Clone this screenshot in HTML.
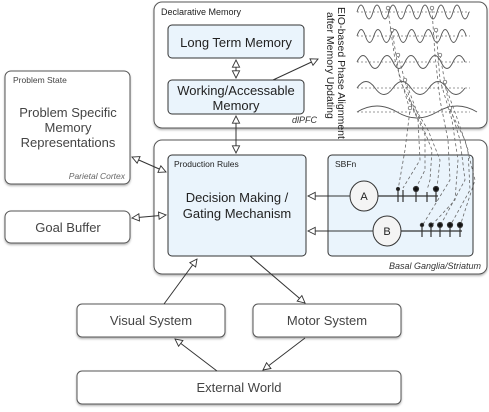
<!DOCTYPE html>
<html><head><style>
body{margin:0;background:#fff;}
svg{display:block;font-family:"Liberation Sans",Arial,sans-serif;}
</style></head><body>
<svg width="489" height="412" viewBox="0 0 489 412" xmlns="http://www.w3.org/2000/svg">
<defs>
<marker id="oa" viewBox="0 0 10 10" refX="9" refY="5" markerWidth="9" markerHeight="9" orient="auto-start-reverse" markerUnits="userSpaceOnUse">
<path d="M1,1 L9,5 L1,9 Z" fill="#fff" stroke="#333" stroke-width="1"/></marker>
<filter id="sh" x="-5%" y="-5%" width="110%" height="115%"><feDropShadow dx="0" dy="1.5" stdDeviation="1" flood-color="#000" flood-opacity="0.3"/></filter>
</defs>
<g stroke="#555" stroke-width="1" filter="url(#sh)">
<rect x="154" y="2" width="333" height="126" rx="8" fill="#fff"/>
<rect x="154" y="140" width="333" height="134" rx="8" fill="#fff"/>
<rect x="5" y="71" width="125" height="113" rx="6" fill="#fff"/>
<rect x="5" y="211" width="125" height="32" rx="6" fill="#fff"/>
<rect x="77" y="304" width="148" height="33" rx="5" fill="#fff"/>
<rect x="253" y="304" width="148" height="33" rx="5" fill="#fff"/>
<rect x="77" y="371" width="324" height="33" rx="5" fill="#fff"/>
</g>
<g stroke="#333" stroke-width="1" fill="#eaf4fc">
<rect x="168" y="25" width="136" height="33" rx="4"/>
<rect x="168" y="80" width="136" height="34" rx="4"/>
<rect x="168" y="155" width="138" height="101" rx="4"/>
<rect x="328" y="155" width="145" height="101" rx="4"/>
</g>
<!-- waves -->
<g fill="none" stroke="#555" stroke-width="0.9">
<path d="M357,12 q4,-14 8,0 t8,0 t8,0 t8,0 t8,0 t8,0 t8,0 t8,0 t8,0 t8,0 t8,0 t8,0 t8,0 t8,0"/>
<path d="M357,36 q4.2,-13 8.4,0 t8.4,0 t8.4,0 t8.4,0 t8.4,0 t8.4,0 t8.4,0 t8.4,0 t8.4,0 t8.4,0 t8.4,0 t8.4,0 t8.4,0"/>
<path d="M357,62 q6,-13 12,0 t12,0 t12,0 t12,0 t12,0 t12,0 t12,0 t12,0 t12,0"/>
<path d="M357,88 q9,-13 18,0 t18,0 t18,0 t18,0 t18,0 t18,0"/>
<path d="M357,112 q20,-12 40,0 t40,0 t40,0"/>
</g>
<g stroke="#777" stroke-width="0.7" stroke-dasharray="2,2">
<line x1="357" y1="12" x2="470" y2="12"/><line x1="357" y1="36" x2="470" y2="36"/><line x1="357" y1="62" x2="470" y2="62"/><line x1="357" y1="88" x2="470" y2="88"/><line x1="357" y1="112" x2="470" y2="112"/>
</g>
<g stroke="#666" stroke-width="0.8" stroke-dasharray="3,2.5" fill="none">
<path d="M388,10 L395,60 L410,110 L405,150 L398,190"/>
<path d="M392,30 L400,80 L418,120 L420,160 L403,188"/>
<path d="M398,55 L410,100 L425,135 L425,170 L416,188"/>
<path d="M405,80 L420,120 L432,150 L430,180 L427,190"/>
<path d="M410,100 L428,130 L440,160 L437,188"/>
<path d="M432,10 L435,55 L440,100 L448,140 L450,180 L422,226"/>
<path d="M436,30 L440,80 L452,120 L458,160 L455,200 L431,226"/>
<path d="M440,55 L448,100 L460,140 L465,180 L440,226"/>
<path d="M445,85 L456,115 L468,150 L470,190 L450,226"/>
<path d="M450,110 L465,140 L475,180 L460,226"/>
</g>
<g fill="#fff" stroke="#555" stroke-width="0.7">
<circle cx="388" cy="8" r="1.8"/><circle cx="432" cy="8" r="1.8"/><circle cx="405" cy="80" r="1.8"/><circle cx="445" cy="82" r="1.8"/><circle cx="398" cy="55" r="1.8"/><circle cx="440" cy="55" r="1.8"/><circle cx="392" cy="30" r="1.8"/><circle cx="436" cy="30" r="1.8"/><circle cx="410" cy="108" r="1.8"/><circle cx="450" cy="108" r="1.8"/>
</g>
<!-- SBFn -->
<g stroke="#333" stroke-width="1.2" fill="#111">
<line x1="378" y1="196" x2="438" y2="196"/>
<line x1="398" y1="190" x2="398" y2="202"/><line x1="403" y1="190" x2="403" y2="202"/><line x1="416" y1="190" x2="416" y2="202"/><line x1="427" y1="192" x2="427" y2="202"/><line x1="436" y1="190" x2="436" y2="202"/>
<circle cx="398" cy="189" r="1.5"/><circle cx="416" cy="189" r="2.5"/><circle cx="436" cy="189" r="2.5"/>
<line x1="401" y1="231" x2="462" y2="231"/>
<line x1="422" y1="225" x2="422" y2="237"/><line x1="431" y1="225" x2="431" y2="237"/><line x1="440" y1="225" x2="440" y2="237"/><line x1="450" y1="225" x2="450" y2="237"/><line x1="460" y1="225" x2="460" y2="237"/>
<circle cx="422" cy="225" r="1.6"/><circle cx="431" cy="225" r="2"/><circle cx="440" cy="225" r="2.4"/><circle cx="450" cy="225" r="2.5"/><circle cx="460" cy="225" r="2.5"/>
</g>
<g stroke="#333" stroke-width="1" fill="#f4f4f4">
<ellipse cx="364" cy="196" rx="14" ry="15"/>
<ellipse cx="387" cy="231" rx="14" ry="15"/>
</g>
<!-- arrows -->
<g stroke="#333" stroke-width="1" fill="none">
<line x1="236" y1="60" x2="236" y2="78" marker-start="url(#oa)" marker-end="url(#oa)"/>
<line x1="273" y1="80" x2="318" y2="59" marker-end="url(#oa)"/>
<line x1="236" y1="116" x2="236" y2="153" marker-start="url(#oa)" marker-end="url(#oa)"/>
<line x1="350" y1="196" x2="308" y2="196" marker-end="url(#oa)"/>
<line x1="373" y1="231" x2="308" y2="231" marker-end="url(#oa)"/>
<line x1="132" y1="157" x2="166" y2="172" marker-start="url(#oa)" marker-end="url(#oa)"/>
<line x1="132" y1="218" x2="166" y2="215" marker-start="url(#oa)" marker-end="url(#oa)"/>
<line x1="164" y1="304" x2="197" y2="259" marker-end="url(#oa)"/>
<line x1="250" y1="256" x2="305" y2="303" marker-end="url(#oa)"/>
<line x1="217" y1="371" x2="175" y2="339" marker-end="url(#oa)"/>
<line x1="305" y1="338" x2="263" y2="370" marker-end="url(#oa)"/>
</g>
<!-- text -->
<g fill="#222">
<text x="161" y="15" font-size="9">Declarative Memory</text>
<text x="236" y="47" font-size="13" text-anchor="middle">Long Term Memory</text>
<text x="236" y="95" font-size="13" text-anchor="middle">Working/Accessable</text>
<text x="236" y="110" font-size="13" text-anchor="middle">Memory</text>
<text x="317" y="123" font-size="9" font-style="italic" text-anchor="end" fill="#333">dlPFC</text>
<text transform="translate(338,7) rotate(90)" font-size="10.5">EIO-based Phase Alignment</text>
<text transform="translate(327,12) rotate(90)" font-size="10.5">after Memory Updating</text>
<text x="174" y="167" font-size="8.5">Production Rules</text>
<text x="237" y="202" font-size="13" text-anchor="middle">Decision Making /</text>
<text x="237" y="218" font-size="13" text-anchor="middle">Gating Mechanism</text>
<text x="335" y="167" font-size="8.5">SBFn</text>
<text x="364" y="200" font-size="11" text-anchor="middle">A</text>
<text x="387" y="235" font-size="11" text-anchor="middle">B</text>
<text x="481" y="269" font-size="9" font-style="italic" text-anchor="end" fill="#333">Basal Ganglia/Striatum</text>
<text x="13" y="83" font-size="8.5" fill="#444">Problem State</text>
<text x="68" y="117" font-size="13" text-anchor="middle" fill="#444">Problem Specific</text>
<text x="68" y="132" font-size="13" text-anchor="middle" fill="#444">Memory</text>
<text x="68" y="147" font-size="13" text-anchor="middle" fill="#444">Representations</text>
<text x="125" y="179" font-size="8.5" font-style="italic" text-anchor="end" fill="#666">Parietal Cortex</text>
<text x="68" y="232" font-size="13" text-anchor="middle" fill="#444">Goal Buffer</text>
<text x="151" y="325" font-size="13" text-anchor="middle" fill="#444">Visual System</text>
<text x="327" y="325" font-size="13" text-anchor="middle" fill="#444">Motor System</text>
<text x="239" y="392" font-size="13" text-anchor="middle" fill="#444">External World</text>
</g>
</svg>
</body></html>
